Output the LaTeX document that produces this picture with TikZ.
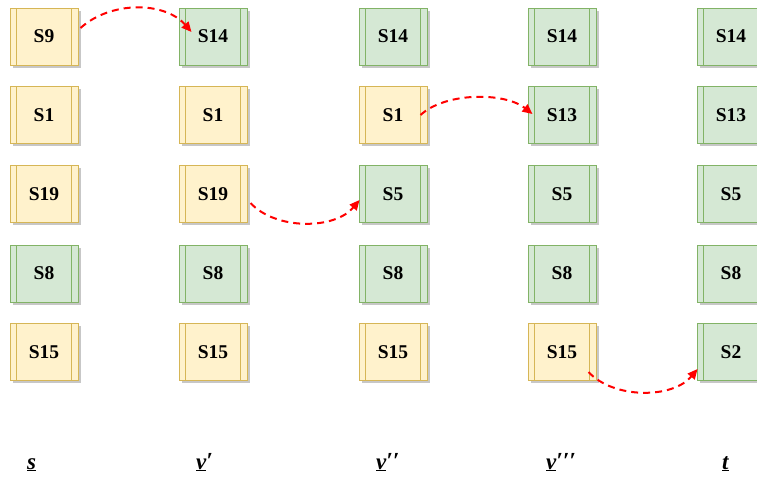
\documentclass[tikz,border=0pt]{standalone}
\usepackage{fontspec}
\setmainfont{Liberation Serif}
\usetikzlibrary{shadows,arrows.meta}
\definecolor{yfill}{HTML}{FFF2CC}
\definecolor{ydraw}{HTML}{D6B656}
\definecolor{gfill}{HTML}{D5E8D4}
\definecolor{gdraw}{HTML}{82B366}
\definecolor{redline}{HTML}{FF0000}
\tikzset{
  procbox/.style={rectangle, minimum width=68pt, minimum height=57pt, line width=1pt,
    font=\fontsize{19.5}{22}\selectfont\bfseries, inner sep=0pt,
    drop shadow={shadow xshift=2.5pt, shadow yshift=-2.5pt, fill=black!22, opacity=1},
    path picture={\draw[line width=1pt, draw=#1]
      ([xshift=6.5pt]path picture bounding box.north west) -- ([xshift=6.5pt]path picture bounding box.south west)
      ([xshift=-6.5pt]path picture bounding box.north east) -- ([xshift=-6.5pt]path picture bounding box.south east);}},
  ybox/.style={procbox=ydraw, fill=yfill, draw=ydraw},
  gbox/.style={procbox=gdraw, fill=gfill, draw=gdraw},
  jump/.style={draw=redline, line width=2pt, dash pattern=on 7pt off 5pt, -{Triangle[length=10pt,width=9pt]}},
  collabel/.style={anchor=base west, font=\fontsize{23}{26}\selectfont\bfseries\itshape, inner sep=0pt}
}
\newcommand{\pr}{\raisebox{1pt}{′}}
\begin{document}
\begin{tikzpicture}[x=1pt,y=-1pt]
\useasboundingbox (0,0) rectangle (757,482);
\clip (0,0) rectangle (757,482);
% column 1 (s)
\node[ybox] (a1) at (44,36.5) {S9};
\node[ybox] (a2) at (44,115) {S1};
\node[ybox] (a3) at (44,194) {S19};
\node[gbox] (a4) at (44,273.5) {S8};
\node[ybox] (a5) at (44,352) {S15};
% column 2 (v')
\node[gbox] (b1) at (213,36.5) {S14};
\node[ybox] (b2) at (213,115) {S1};
\node[ybox] (b3) at (213,194) {S19};
\node[gbox] (b4) at (213,273.5) {S8};
\node[ybox] (b5) at (213,352) {S15};
% column 3 (v'')
\node[gbox] (c1) at (393,36.5) {S14};
\node[ybox] (c2) at (393,115) {S1};
\node[gbox] (c3) at (393,194) {S5};
\node[gbox] (c4) at (393,273.5) {S8};
\node[ybox] (c5) at (393,352) {S15};
% column 4 (v''')
\node[gbox] (d1) at (562,36.5) {S14};
\node[gbox] (d2) at (562,115) {S13};
\node[gbox] (d3) at (562,194) {S5};
\node[gbox] (d4) at (562,273.5) {S8};
\node[ybox] (d5) at (562,352) {S15};
% column 5 (t)
\node[gbox] (e1) at (731,36.5) {S14};
\node[gbox] (e2) at (731,115) {S13};
\node[gbox] (e3) at (731,194) {S5};
\node[gbox] (e4) at (731,273.5) {S8};
\node[gbox] (e5) at (731,352) {S2};
% arrows
\draw[jump] ([shift={(2,-8.5)}]a1.east) .. controls +(30,-27) and +(-27,-31) .. ([shift={(13,-4.5)}]b1.west);
\draw[jump] ([shift={(-7,0)}]c2.east) .. controls +(25,-23) and +(-28,-22) .. ([shift={(5,-1)}]d2.west);
\draw[jump] ([shift={(3,9)}]b3.east) .. controls +(25,27) and +(-25,30) .. ([shift={(1,6)}]c3.west);
\draw[jump] ([shift={(-8,20)}]d5.east) .. controls +(25,27) and +(-25,30) .. ([shift={(1,17)}]e5.west);
% column labels
\node[collabel] (ls) at (27,469) {\underline{s}};
\node[collabel] (lv1) at (196,469) {\underline{v}\pr};
\node[collabel] (lv2) at (376,469) {\underline{v}\pr\pr};
\node[collabel] (lv3) at (546,469) {\underline{v}\pr\pr\pr};
\node[collabel] (lt) at (722,469) {\underline{t}};
\end{tikzpicture}
\end{document}
